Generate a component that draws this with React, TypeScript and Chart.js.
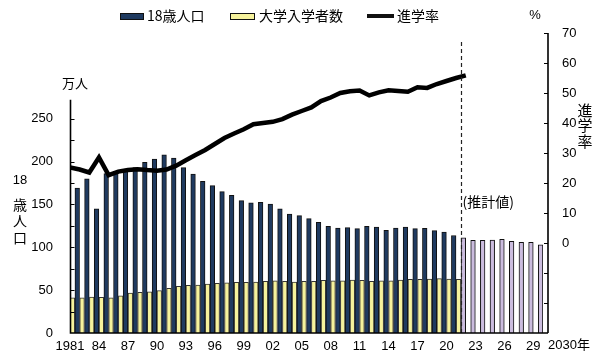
import React, { useEffect, useRef } from 'react';
import { Chart, registerables } from 'chart.js';

Chart.register(...registerables);

// ---- data ----
const years = [
  '1981', '1982', '1983', '1984', '1985', '1986', '1987', '1988', '1989', '1990',
  '1991', '1992', '1993', '1994', '1995', '1996', '1997', '1998', '1999', '2000',
  '2001', '2002', '2003', '2004', '2005', '2006', '2007', '2008', '2009', '2010',
  '2011', '2012', '2013', '2014', '2015', '2016', '2017', '2018', '2019', '2020',
  '2021', '2022', '2023', '2024', '2025', '2026', '2027', '2028', '2029',
];
const tickLabels = ['1981', '84', '87', '90', '93', '96', '99', '02', '05', '08', '11', '14', '17', '20', '23', '26', '29'];
const endLabel = '2030年';

// 大学入学者数 (万人)
const entrants = [
  41, 41, 42, 41.5, 41, 43.5, 46.5, 47.5, 48, 49.5,
  52, 54.5, 55.5, 56, 57, 58, 58.5, 59, 59, 59.5,
  60.3, 61, 60.3, 59.5, 60.3, 60.3, 61.4, 61, 61, 61.8,
  61.4, 60.3, 61, 61, 61.8, 62.6, 62.6, 63, 63.4, 63,
  62.6,
];
// 18歳人口 (万人) actual
const pop18Actual = [
  169, 180, 145, 186, 187, 190, 193, 199, 203, 208,
  204, 193, 185.5, 177, 172, 165, 160.6, 154.4, 152, 152.5,
  150.5, 145, 138.8, 137, 133.4, 129, 124.4, 122.5, 123, 121.7,
  124.4, 123.7, 119.7, 122.5, 123.7, 121.7, 122, 119.4, 117.8, 113.7,
];
// 18歳人口 (万人) 推計値
const pop18Projected = [111, 108, 108, 108.4, 109.2, 106.9, 105.7, 105.7, 103];
// 進学率 (%)
const rate = [
  25.2, 24.5, 23.5, 28.5, 22.6, 23.8, 24.3, 24.6, 24.3, 24.1,
  24.5, 25.8, 27.6, 29.3, 31, 33, 35, 36.5, 37.9, 39.6,
  40, 40.4, 41.3, 42.8, 44, 45.2, 47.3, 48.5, 50, 50.6,
  50.8, 49.2, 50.2, 50.9, 50.7, 50.4, 51.9, 51.7, 53, 54,
  55, 55.9,
];

const BLUE = '#1f3a60';
const YELLOW = '#f6f29c';
const PURPLE = '#cbbcde';
const NUM_FONT = '"Liberation Sans", "Noto Sans CJK JP", sans-serif';
const JP_FONT = '"Noto Sans CJK JP", "Liberation Sans", sans-serif';

const decor = {
  id: 'decor',
  afterDatasetsDraw(chart: any) {
    const { ctx, chartArea } = chart;
    const x = chart.scales.x;
    const yL = chart.scales.yL;
    const yR = chart.scales.yR;
    const axisRight = chartArea.right + 5;
    ctx.save();

    // dashed separator between actual and projected values
    const dx = Math.round(x.getPixelForValue(pop18Actual.length + 0.5)) + 0.5;
    ctx.strokeStyle = '#222';
    ctx.lineWidth = 1.2;
    ctx.setLineDash([4, 3]);
    ctx.beginPath();
    ctx.moveTo(dx, yR.getPixelForValue(67));
    ctx.lineTo(dx, chartArea.bottom);
    ctx.stroke();
    ctx.setLineDash([]);

    // axes
    ctx.strokeStyle = '#000';
    ctx.lineWidth = 1.6;
    ctx.beginPath();
    const lx = chartArea.left + 0.5;
    ctx.moveTo(lx, yL.getPixelForValue(272));
    ctx.lineTo(lx, chartArea.bottom);
    ctx.lineTo(axisRight, chartArea.bottom);
    ctx.moveTo(axisRight, yR.getPixelForValue(70));
    ctx.lineTo(axisRight, chartArea.bottom);
    ctx.stroke();

    ctx.lineWidth = 1.2;
    ctx.beginPath();
    for (let v = 25; v <= 250; v += 25) {
      const py = Math.round(yL.getPixelForValue(v)) + 0.5;
      ctx.moveTo(lx, py);
      ctx.lineTo(lx + 4, py);
    }
    for (let v = -20; v <= 70; v += 10) {
      const py = Math.round(yR.getPixelForValue(v)) + 0.5;
      ctx.moveTo(axisRight - 4, py);
      ctx.lineTo(axisRight, py);
    }
    ctx.stroke();

    // texts
    ctx.fillStyle = '#000';
    ctx.textBaseline = 'middle';
    ctx.textAlign = 'left';
    ctx.font = '13px ' + NUM_FONT;
    ctx.fillText(endLabel, axisRight, 345);

    ctx.font = '14px ' + JP_FONT;
    ctx.fillText('(推計値)', dx + 1, 202);

    ctx.textAlign = 'center';
    ctx.font = '13px ' + JP_FONT;
    ctx.fillText('万人', 75, 83);
    ctx.font = '13px ' + NUM_FONT;
    ctx.fillText('%', 535, 15);
    ctx.fillText('18', 20, 180);
    ctx.font = '14px ' + JP_FONT;
    ctx.fillText('歳', 20, 205);
    ctx.fillText('人', 20, 221);
    ctx.fillText('口', 20, 238);
    ctx.font = '15px ' + JP_FONT;
    ctx.fillText('進', 585, 110);
    ctx.fillText('学', 585, 125.5);
    ctx.fillText('率', 585, 141);

    // legend
    const ds = chart.data.datasets;
    const ly = 16;
    ctx.textAlign = 'left';
    ctx.font = '14px ' + JP_FONT;
    ctx.lineWidth = 1;
    ctx.strokeStyle = '#111';
    ctx.fillStyle = BLUE;
    ctx.fillRect(120.5, 13.5, 23, 6);
    ctx.strokeRect(120.5, 13.5, 23, 6);
    ctx.fillStyle = '#000';
    ctx.fillText(ds[1].label, 147, ly);
    ctx.fillStyle = YELLOW;
    ctx.fillRect(230.5, 13.5, 24, 6);
    ctx.strokeRect(230.5, 13.5, 24, 6);
    ctx.fillStyle = '#000';
    ctx.fillText(ds[0].label, 259, ly);
    ctx.lineWidth = 4;
    ctx.beginPath();
    ctx.moveTo(367, ly);
    ctx.lineTo(394, ly);
    ctx.stroke();
    ctx.fillText(ds[2].label, 397, ly);

    ctx.restore();
  },
};

export default function App() {
  const ref = useRef<HTMLCanvasElement | null>(null);

  useEffect(() => {
    if (!ref.current) return;
    // each year occupies one unit on the x scale: year i spans [i, i+1];
    // 大学入学者数 sits in the left half, 18歳人口 in the right half.
    const popAll = [...pop18Actual, ...pop18Projected];
    const popColors = [...pop18Actual.map(() => BLUE), ...pop18Projected.map(() => PURPLE)];
    const entrantsPts = entrants.map((v, i) => ({ x: i + 0.25, y: v, year: years[i] }));
    const popPts = popAll.map((v, i) => ({ x: i + 0.75, y: v, year: years[i] }));
    const ratePts = rate.map((v, i) => ({ x: i, y: v }));

    const chart = new Chart(ref.current, {
      type: 'bar',
      data: {
        datasets: [
          {
            label: '大学入学者数',
            data: entrantsPts,
            backgroundColor: YELLOW,
            borderColor: '#333',
            borderWidth: 1,
            yAxisID: 'yL',
            order: 1,
            grouped: false,
            barThickness: 4.6,
          } as any,
          {
            label: '18歳人口',
            data: popPts,
            backgroundColor: popColors,
            borderColor: '#111',
            borderWidth: 1,
            yAxisID: 'yL',
            order: 1,
            grouped: false,
            barThickness: 4.6,
          } as any,
          {
            type: 'line',
            label: '進学率',
            data: ratePts,
            yAxisID: 'yR',
            borderColor: '#000',
            backgroundColor: '#000',
            borderWidth: 4.5,
            pointRadius: 0,
            tension: 0,
            order: 0,
          } as any,
        ],
      },
      options: {
        animation: false,
        responsive: false,
        devicePixelRatio: 1,
        layout: { padding: { top: 33, left: 0, right: 0, bottom: 0 } },
        plugins: { legend: { display: false }, tooltip: { enabled: false } },
        scales: {
          x: {
            type: 'linear',
            position: 'bottom',
            offset: false,
            min: 0,
            max: years.length,
            grid: { display: false, drawTicks: false, offset: false },
            border: { display: false },
            afterFit: (s: any) => { s.height = 27; },
            afterBuildTicks: (s: any) => { s.ticks = tickLabels.map((_, i) => ({ value: i * 3 })); },
            ticks: {
              autoSkip: false,
              maxRotation: 0,
              padding: 6,
              color: '#000',
              font: { family: NUM_FONT, size: 13 },
              callback: (v: any) => tickLabels[Math.round(Number(v) / 3)] ?? '',
            },
          },
          yL: {
            type: 'linear',
            position: 'left',
            min: 0,
            max: 350,
            grid: { display: false, drawTicks: false },
            border: { display: false },
            afterFit: (s: any) => { s.width = 70; },
            ticks: {
              stepSize: 25,
              padding: 17,
              color: '#000',
              font: { family: NUM_FONT, size: 13 },
              callback: (v: any) => (Number(v) % 50 === 0 && Number(v) <= 250 ? String(v) : ''),
            },
          },
          yR: {
            type: 'linear',
            position: 'right',
            min: -30,
            max: 70,
            grid: { display: false, drawTicks: false },
            border: { display: false },
            afterFit: (s: any) => { s.width = 57; },
            ticks: {
              stepSize: 10,
              padding: 19,
              color: '#000',
              font: { family: NUM_FONT, size: 13 },
              callback: (v: any) => (Number(v) >= 0 ? String(v) : ''),
            },
          },
        },
      },
      plugins: [decor],
    });
    return () => chart.destroy();
  }, []);

  return (
    <div style={{ position: 'fixed', left: 0, top: 0, width: 600, height: 360, background: '#fff' }}>
      <canvas ref={ref} width={600} height={360} style={{ display: 'block' }} />
    </div>
  );
}
